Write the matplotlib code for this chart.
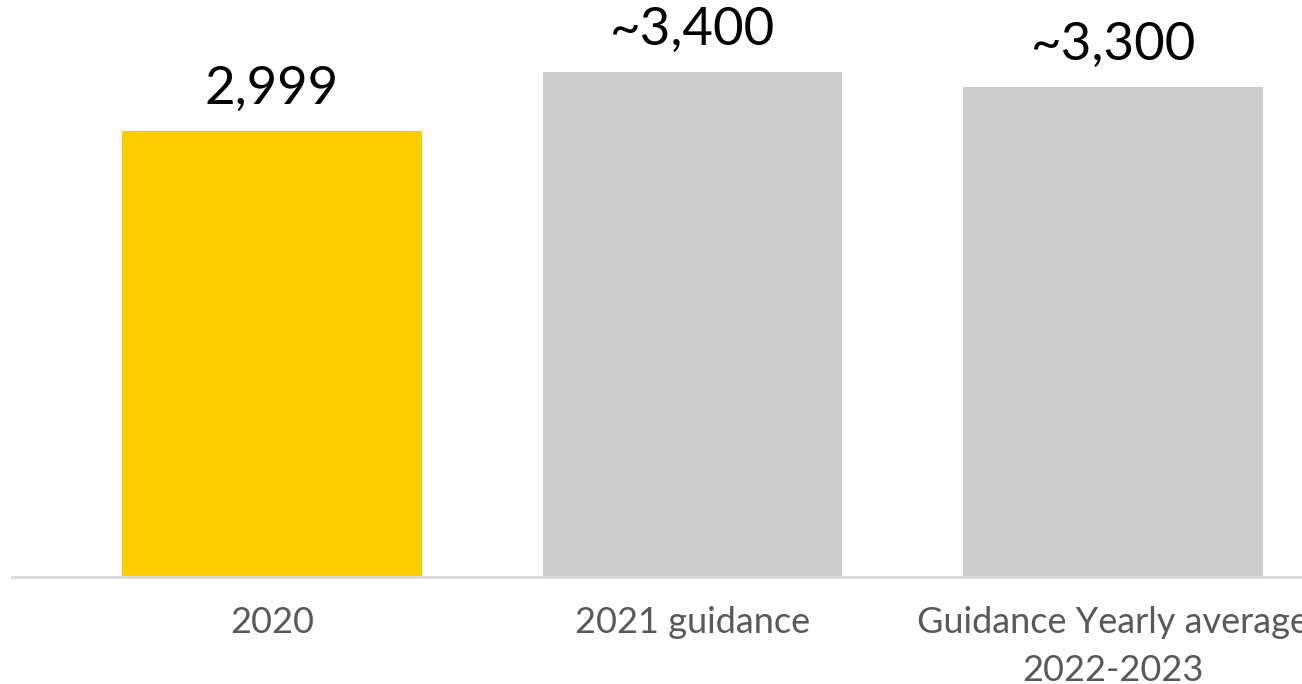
import matplotlib.pyplot as plt

categories = ["2020", "2021 guidance", "Guidance Yearly average\n2022-2023"]
values = [2999, 3400, 3300]
value_labels = ["2,999", "~3,400", "~3,300"]
colors = ["#FFCC00", "#CCCCCC", "#CCCCCC"]

plt.rcParams['font.family'] = ['Lato', 'DejaVu Sans']

fig = plt.figure(figsize=(13.02, 6.84), dpi=100)
ax = fig.add_axes([12 / 1302, 107 / 684, 1 - 12 / 1302, 577 / 684])

x = range(len(categories))
bars = ax.bar(x, values, width=0.713, color=colors, zorder=2)

# value labels sit on top of each bar
for bar, lab in zip(bars, value_labels):
    ax.annotate(lab, (bar.get_x() + bar.get_width() / 2, bar.get_height()),
                xytext=(0, 19.5), textcoords='offset points',
                ha='center', va='baseline', fontsize=38, color='black')

ax.set_xlim(-0.618, 2.449)
ax.set_ylim(0, 3883)
ax.set_xticks(list(x))
ax.set_xticklabels(categories, fontsize=26, color='#595959', linespacing=1.55)
ax.tick_params(axis='x', length=0, pad=21)
ax.set_yticks([])

for side in ['top', 'right', 'left']:
    ax.spines[side].set_visible(False)
ax.spines['bottom'].set_color('#D9D9D9')
ax.spines['bottom'].set_linewidth(2)

fig.savefig('out.png', dpi=100)
